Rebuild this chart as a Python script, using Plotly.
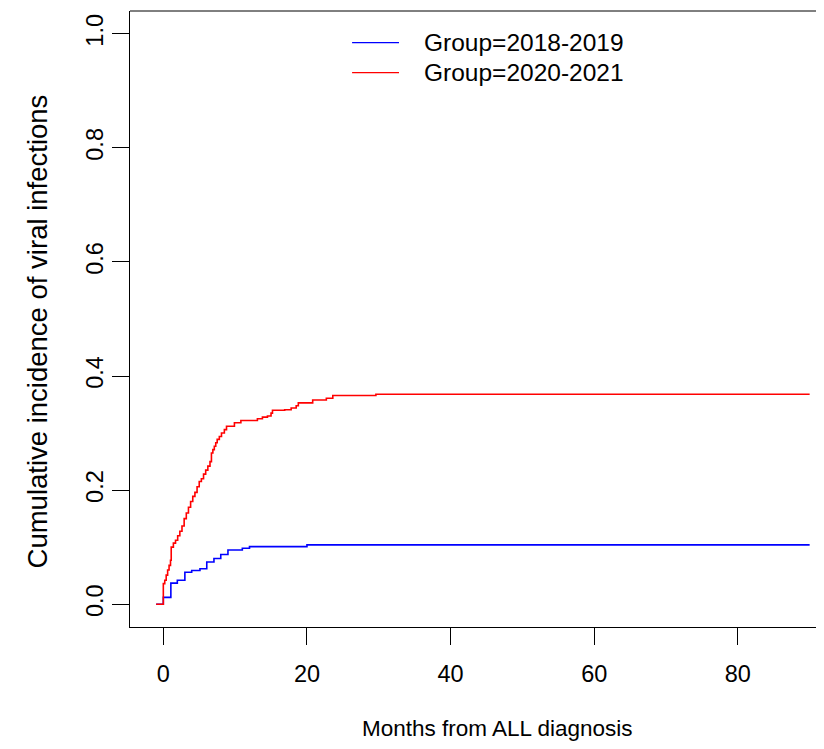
import plotly.graph_objects as go

# Data (months, cumulative incidence)
blue_t = [-1, 0, 1.05, 1.95, 3.0, 3.95, 5.1, 6.05, 7.05, 8.0, 9.0, 11.0, 12.0, 20.0, 90]
blue_v = [0, 0.012, 0.037, 0.042, 0.056, 0.059, 0.062, 0.074, 0.080, 0.087, 0.095, 0.098, 0.101, 0.104, 0.104]

red_t = [-1, 0, 0.2, 0.4, 0.6, 0.8, 1.0, 1.1, 1.4, 1.7, 2.0, 2.3, 2.6, 2.9, 3.2, 3.5, 3.8,
         4.1, 4.4, 4.7, 5.0, 5.3, 5.6, 5.9, 6.2, 6.5, 6.7, 6.9, 7.1, 7.3, 7.5, 7.8, 8.1, 8.5,
         8.8, 9.9, 10.8, 13.1, 13.8, 14.5, 15.0, 15.2, 16.9, 17.8, 18.5, 18.8, 20.8, 22.7, 23.6, 29.6, 90]
red_v = [0, 0.036, 0.042, 0.051, 0.060, 0.068, 0.077, 0.100, 0.107, 0.112, 0.120, 0.128, 0.137,
         0.150, 0.160, 0.170, 0.180, 0.189, 0.196, 0.206, 0.215, 0.220, 0.228, 0.235, 0.242, 0.250,
         0.265, 0.271, 0.277, 0.283, 0.289, 0.294, 0.300, 0.306, 0.312, 0.318, 0.322, 0.325, 0.328,
         0.330, 0.335, 0.340, 0.341, 0.344, 0.348, 0.353, 0.358, 0.361, 0.366, 0.368, 0.368]

group_names = ["Group=2018-2019", "Group=2020-2021"]
group_colors = ["#0000FF", "#FF0000"]
x_ticks = [0, 20, 40, 60, 80]
y_ticks = [0.0, 0.2, 0.4, 0.6, 0.8, 1.0]
x_title = "Months from ALL diagnosis"
y_title = "Cumulative incidence of viral infections"

FONT = "Liberation Sans, Arial, sans-serif"

fig = go.Figure()
for t, v, name, col in [(blue_t, blue_v, group_names[0], group_colors[0]),
                        (red_t, red_v, group_names[1], group_colors[1])]:
    fig.add_trace(go.Scatter(x=t, y=v, mode="lines", name=name,
                             line=dict(color=col, width=1.6, shape="hv"),
                             showlegend=False))

# manual legend (matches R legend layout)
legend_y = [0.9485, 0.8998]
for name, col, ypos in zip(group_names, group_colors, legend_y):
    fig.add_shape(type="line", xref="paper", yref="paper",
                  x0=0.32, x1=0.3876, y0=ypos, y1=ypos,
                  line=dict(color=col, width=1.2))
    fig.add_annotation(xref="paper", yref="paper", x=0.4203, y=ypos, text=name,
                       showarrow=False, xanchor="left", yanchor="middle",
                       font=dict(size=24.5, color="black", family=FONT))

# axis titles (positioned as in the cropped R figure)
fig.add_annotation(xref="paper", yref="paper", x=0.530, y=-0.164, text=x_title,
                   showarrow=False, xanchor="center", yanchor="middle",
                   font=dict(size=22.5, color="black", family=FONT))
fig.add_annotation(xref="paper", yref="paper", x=-0.1326, y=0.4797, text=y_title,
                   showarrow=False, xanchor="center", yanchor="middle", textangle=-90,
                   font=dict(size=27.5, color="black", family=FONT))

# top border of the box
fig.add_shape(type="line", xref="paper", yref="paper", x0=0, x1=1, y0=1, y1=1,
              line=dict(color="black", width=1))

fig.update_layout(
    width=816, height=733,
    margin=dict(l=122, r=0, t=3, b=114),
    paper_bgcolor="white", plot_bgcolor="white",
    font=dict(family=FONT, size=23.5, color="black"),
    xaxis=dict(range=[-4.64, 92.0], tickvals=x_ticks, ticks="outside", ticklen=17,
               tickcolor="black", showline=True, linecolor="black", linewidth=1,
               showgrid=False, zeroline=False, ticklabelstandoff=9),
    yaxis=dict(range=[-0.04, 1.04], tickvals=y_ticks, tickformat=".1f", ticks="outside",
               ticklen=17, tickcolor="black", tickangle=-90, showline=True,
               linecolor="black", linewidth=1, showgrid=False, zeroline=False),
)

fig.write_html("out.html")
